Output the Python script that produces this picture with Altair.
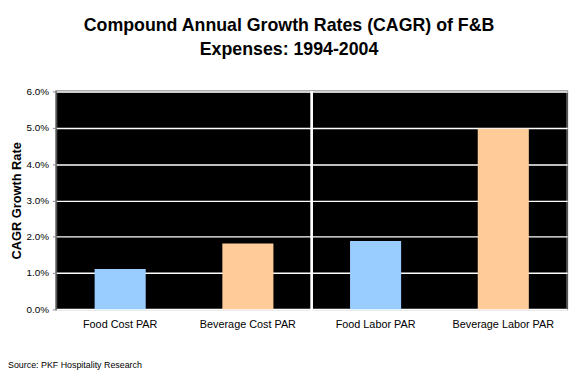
import altair as alt
import pandas as pd

categories = ["Food Cost PAR", "Beverage Cost PAR", "Food Labor PAR", "Beverage Labor PAR"]
groups = ["Food", "Beverage", "Food", "Beverage"]
values = [0.0111, 0.0181, 0.0188, 0.0497]

W, H = 518, 221
FONT = "Liberation Sans"

df = pd.DataFrame({"cat": categories, "grp": groups, "val": values})

bars = alt.Chart(df).mark_bar().encode(
    x=alt.X("cat:N", sort=categories, title=None,
            scale=alt.Scale(paddingInner=0.6, paddingOuter=0.3),
            axis=alt.Axis(labelAngle=0, labelFontSize=11, labelColor="#000",
                          labelFont=FONT, ticks=False, domain=False, labelPadding=9)),
    y=alt.Y("val:Q", title="CAGR Growth Rate",
            scale=alt.Scale(domain=[0, 0.06], nice=False),
            axis=alt.Axis(format=".1%", values=[0, 0.01, 0.02, 0.03, 0.04, 0.05, 0.06],
                          labelFontSize=10, labelFont=FONT, labelColor="#000",
                          titleFont=FONT, titleFontSize=13, titleFontWeight="bold",
                          titleColor="#000", titlePadding=3,
                          grid=True, gridColor="#ffffff", gridWidth=1.5,
                          domain=False, tickSize=4, tickColor="#888", labelPadding=4)),
    color=alt.Color("grp:N", scale=alt.Scale(domain=["Food", "Beverage"],
                                             range=["#99CCFF", "#FFCC99"]), legend=None),
)

divider = alt.Chart(df).mark_rule(color="#ffffff", strokeWidth=2).encode(
    x=alt.value(W / 2), y=alt.value(0), y2=alt.value(H + 5)
)

source = alt.Chart(pd.DataFrame({"t": ["Source: PKF Hospitality Research"]})).mark_text(
    align="left", baseline="middle", fontSize=9, font=FONT, color="#000"
).encode(x=alt.value(-49), y=alt.value(277), text="t:N")

chart = alt.layer(bars, divider, source).properties(
    width=W, height=H,
    title=alt.TitleParams(
        ["Compound Annual Growth Rates (CAGR) of F&B", "Expenses: 1994-2004"],
        font=FONT, fontSize=18, fontWeight="bold", color="#000",
        anchor="middle", dx=-23, offset=28, lineHeight=24,
    ),
    autosize=alt.AutoSizeParams(type="none"),
    padding={"left": 49, "top": 82, "right": 10, "bottom": 66},
).configure_view(
    fill="#000000", stroke="#555555", strokeWidth=2
)

chart.save("out.html", embed_options={"renderer": "svg", "actions": False})
